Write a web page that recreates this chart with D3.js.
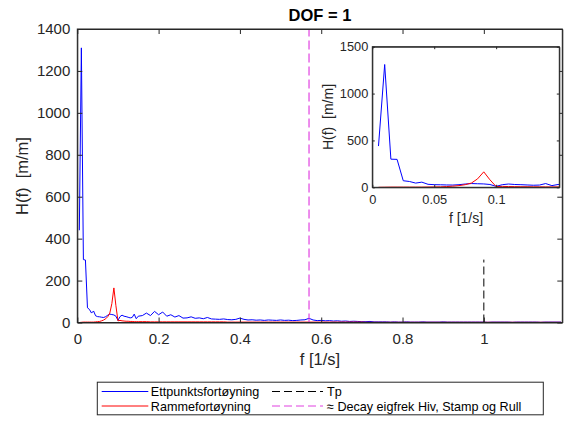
<!DOCTYPE html>
<html>
<head>
<meta charset="utf-8">
<script src="https://cdn.jsdelivr.net/npm/d3@7"></script>
<style>
  body { margin: 0; background: #fff; }
  svg { display: block; font-family: "Liberation Sans", Arial, Helvetica, sans-serif; }
</style>
</head>
<body>
<svg id="chart" width="565" height="426"></svg>
<script>
// ---------- data ----------
// frequency grid [1/s]: fine 0.005 steps up to 0.15, then 0.01 steps
const fineFreq = d3.range(1, 31).map(i => +(i * 0.005).toFixed(3));
const coarseFreq = d3.range(16, 120).map(i => +(i * 0.01).toFixed(2));
const freq = fineFreq.concat(coarseFreq);

// Ettpunktsfortøyning (blue)
const blueFine = [440,1310,300,298,70,62,45,55,32,28,27,25,24,28,35,40,38,36,30,10,28,35,30,28,25,22,24,40,18,30];
const blueCoarse = [
  33,45,33,53,37,50,30,37,26,33,
  21,22,27,20,22,18,24,17,16,15,
  17,14,13,15,21,15,12,13,11,12,
  10,12,11,10,12,10,11,9,10,12,
  13,20,12,9,10,8,9,7,8,6,
  7,5,6,5,4,4,5,3,3,3,
  3,2,3,2,2,3,2,2,2,3,
  2,2,2,2,3,2,2,2,2,2,
  2,2,2,2,2,1,2,2,2,2,
  2,1,2,2,2,2,2,2,1,2,
  2,2,2,2];
const blueVals = blueFine.concat(blueCoarse);

// Rammefortøyning (red)
const redFine = [0,1,2,2,2,2,2,2,3,4,5,8,12,18,28,45,90,165,80,8,10,8,7,6,6,5,5,4,4,4];
const redCoarse = [
  4,4,3,3,3,3,3,3,3,3,
  3,3,3,3,3,3,3,3,3,3,
  3,2,2,2,2,2,2,2,2,2,
  2,2,2,2,2,2,2,2,2,2,
  2,2,2,2,2,2,2,2,2,2,
  2,2,2,2,2,1,1,1,1,1,
  1,1,1,1,1,1,1,1,1,1,
  1,1,1,1,1,1,1,1,1,1,
  1,1,1,1,1,1,1,1,1,1,
  1,1,1,1,1,1,1,1,1,1,
  1,1,1,1];
const redVals = redFine.concat(redCoarse);

const tpFreq = 1.0, tpHeight = 300;
const decayFreq = 0.57;

const mainXTicks = [0, 0.2, 0.4, 0.6, 0.8, 1];
const mainYTicks = [0, 200, 400, 600, 800, 1000, 1200, 1400];
const insetXTicks = [0, 0.05, 0.1];
const insetYTicks = [0, 500, 1000, 1500];

const legendLabels = ["Ettpunktsfortøyning", "Rammefortøyning", "Tp", "\u2248 Decay eigfrek Hiv, Stamp og Rull"];

// ---------- drawing ----------
const svg = d3.select("#chart");
const axisColor = "#262626";
const blue = "#0000ff", red = "#ff0000", magenta = "#e040e0";

const blueData = freq.map((f, i) => [f, blueVals[i]]);
const redData = freq.map((f, i) => [f, redVals[i]]);

function drawAxes(g, x, y, xt, yt, opts) {
  const [x0, x1] = x.range();
  const [y0, y1] = y.range(); // y0 bottom, y1 top
  const fmt = d => String(d);
  const bottom = g.append("g").attr("transform", `translate(0,${y0})`)
    .call(d3.axisBottom(x).tickValues(xt).tickFormat(fmt).tickSizeInner(-opts.tick).tickSizeOuter(0).tickPadding(opts.xpad));
  const top = g.append("g").attr("transform", `translate(0,${y1})`)
    .call(d3.axisTop(x).tickValues(xt).tickFormat("").tickSizeInner(-opts.tick).tickSizeOuter(0));
  const left = g.append("g").attr("transform", `translate(${x0},0)`)
    .call(d3.axisLeft(y).tickValues(yt).tickFormat(fmt).tickSizeInner(-opts.tick).tickSizeOuter(0).tickPadding(opts.ypad));
  const right = g.append("g").attr("transform", `translate(${x1},0)`)
    .call(d3.axisRight(y).tickValues(yt).tickFormat("").tickSizeInner(-opts.tick).tickSizeOuter(0));
  [bottom, top, left, right].forEach(a => {
    a.select(".domain").attr("stroke", axisColor);
    a.selectAll(".tick line").attr("stroke", axisColor);
    a.selectAll(".tick text").attr("fill", axisColor).style("font-size", opts.font + "px");
  });
  g.append("rect").attr("x", x0).attr("y", y1).attr("width", x1 - x0).attr("height", y0 - y1)
    .attr("fill", "none").attr("stroke", axisColor).attr("stroke-width", 1);
}

// main axes
const X = d3.scaleLinear().domain([0, 1.193]).range([77.3, 562.3]);
const Y = d3.scaleLinear().domain([0, 1400]).range([322.5, 29]);

svg.append("defs").append("clipPath").attr("id", "clipMain")
  .append("rect").attr("x", 77.3).attr("y", 29).attr("width", 485).attr("height", 293.5);

const main = svg.append("g");
const line = (x, y) => d3.line().x(d => x(d[0])).y(d => y(d[1]));

const mainPlot = main.append("g").attr("clip-path", "url(#clipMain)");
mainPlot.append("path").datum(blueData).attr("d", line(X, Y)).attr("fill", "none").attr("stroke", blue).attr("stroke-width", 1);
mainPlot.append("path").datum(redData).attr("d", line(X, Y)).attr("fill", "none").attr("stroke", red).attr("stroke-width", 1);
mainPlot.append("line").attr("x1", X(tpFreq)).attr("x2", X(tpFreq)).attr("y1", Y(0)).attr("y2", Y(tpHeight))
  .attr("stroke", "#000").attr("stroke-width", 1).attr("stroke-dasharray", "8,4");
mainPlot.append("line").attr("x1", X(decayFreq)).attr("x2", X(decayFreq)).attr("y1", Y(0)).attr("y2", Y(1400))
  .attr("stroke", magenta).attr("stroke-width", 1.2).attr("stroke-dasharray", "9,4");

drawAxes(main, X, Y, mainXTicks, mainYTicks, { tick: 5, xpad: 10.5, ypad: 7, font: 15 });

main.append("text").attr("x", 320).attr("y", 21).attr("text-anchor", "middle")
  .style("font-size", "16.5px").style("font-weight", "bold").attr("fill", "#000").text("DOF = 1");
main.append("text").attr("x", 320).attr("y", 365).attr("text-anchor", "middle")
  .style("font-size", "16.5px").attr("fill", axisColor).text("f [1/s]");
main.append("text").attr("transform", "translate(27.5,176) rotate(-90)").attr("text-anchor", "middle")
  .style("font-size", "16.5px").attr("fill", axisColor).style("white-space", "pre").text("H(f)  [m/m]");

// inset axes
const XI = d3.scaleLinear().domain([0, 0.151]).range([372.3, 559.3]);
const YI = d3.scaleLinear().domain([0, 1500]).range([187.3, 46.7]);

const inset = svg.append("g");
inset.append("rect").attr("x", 372.3).attr("y", 46.7).attr("width", 187).attr("height", 140.6).attr("fill", "#fff");
svg.select("defs").append("clipPath").attr("id", "clipInset")
  .append("rect").attr("x", 372.3).attr("y", 46.7).attr("width", 187).attr("height", 140.6);
const insetPlot = inset.append("g").attr("clip-path", "url(#clipInset)");
insetPlot.append("path").datum(blueData).attr("d", line(XI, YI)).attr("fill", "none").attr("stroke", blue).attr("stroke-width", 1);
insetPlot.append("path").datum(redData).attr("d", line(XI, YI)).attr("fill", "none").attr("stroke", red).attr("stroke-width", 1);

drawAxes(inset, XI, YI, insetXTicks, insetYTicks, { tick: 2.5, xpad: 8, ypad: 4, font: 12.8 });

inset.append("text").attr("x", 466).attr("y", 223).attr("text-anchor", "middle")
  .style("font-size", "14px").attr("fill", axisColor).text("f [1/s]");
inset.append("text").attr("transform", "translate(333,117) rotate(-90)").attr("text-anchor", "middle")
  .style("font-size", "14px").attr("fill", axisColor).style("white-space", "pre").text("H(f)  [m/m]");

// legend
const leg = svg.append("g");
leg.append("rect").attr("x", 97.3).attr("y", 382.2).attr("width", 446).attr("height", 32.6)
  .attr("fill", "#fff").attr("stroke", axisColor).attr("stroke-width", 1);
const legItems = [
  { label: legendLabels[0], color: blue, dash: null, x: 101.7, y: 391.5 },
  { label: legendLabels[1], color: red, dash: null, x: 101.7, y: 406 },
  { label: legendLabels[2], color: "#000", dash: "8,4", x: 272, y: 391.5 },
  { label: legendLabels[3], color: magenta, dash: "8,4", x: 272, y: 406 }
];
legItems.forEach((it, i) => {
  const len = i < 2 ? 46.6 : 51;
  leg.append("line").attr("x1", it.x).attr("x2", it.x + len).attr("y1", it.y).attr("y2", it.y)
    .attr("stroke", it.color).attr("stroke-width", 1).attr("stroke-dasharray", it.dash);
  leg.append("text").attr("x", it.x + len + (i < 2 ? 2.5 : 4)).attr("y", it.y + 4.5)
    .style("font-size", "12.6px").attr("fill", "#000").text(it.label);
});
</script>
</body>
</html>
